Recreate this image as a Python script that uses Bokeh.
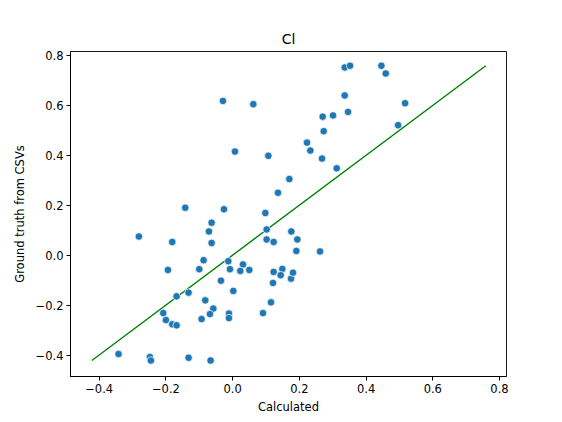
from bokeh.plotting import figure
from bokeh.models import FixedTicker, Range1d, ColumnDataSource
from bokeh.embed import file_html
from bokeh.resources import INLINE

calculated = [-0.029, 0.062, 0.007, 0.107, 0.170, 0.136, -0.142, -0.026, 0.336, 0.352,
              0.446, 0.459, 0.336, 0.346, 0.517, 0.270, 0.301, 0.273, 0.496, 0.223,
              0.233, 0.268, 0.312, 0.098, -0.281, -0.063, -0.071, -0.063, -0.181, 0.102,
              0.102, 0.123, 0.176, -0.087, -0.100, -0.194, -0.013, -0.008, 0.031, 0.023,
              0.050, 0.123, 0.149, 0.144, 0.175, -0.035, 0.121, 0.002, -0.132, -0.168,
              -0.082, 0.115, -0.208, 0.091, -0.011, -0.011, -0.058, -0.068, -0.093, -0.200,
              -0.181, -0.168, -0.342, -0.248, -0.245, -0.132, -0.066, 0.194, 0.191, 0.262,
              0.181]
ground_truth = [0.618, 0.605, 0.415, 0.398, 0.305, 0.250, 0.190, 0.184, 0.752, 0.759,
                0.759, 0.728, 0.640, 0.574, 0.609, 0.555, 0.560, 0.497, 0.521, 0.451,
                0.419, 0.387, 0.348, 0.169, 0.075, 0.130, 0.095, 0.049, 0.053, 0.103,
                0.063, 0.053, 0.095, -0.020, -0.056, -0.059, -0.024, -0.056, -0.037, -0.063,
                -0.059, -0.067, -0.055, -0.080, -0.094, -0.102, -0.111, -0.143, -0.150, -0.165,
                -0.181, -0.189, -0.232, -0.232, -0.234, -0.252, -0.214, -0.236, -0.256, -0.260,
                -0.277, -0.281, -0.396, -0.408, -0.422, -0.411, -0.422, 0.063, 0.017, 0.015,
                -0.070]

tick_values = [-0.4, -0.2, 0.0, 0.2, 0.4, 0.6, 0.8]
tick_labels = ["\u22120.4", "\u22120.2", "0.0", "0.2", "0.4", "0.6", "0.8"]

lo = min(min(calculated), min(ground_truth))
hi = max(max(calculated), max(ground_truth))

FONT = "DejaVu Sans"

p = figure(width=562, height=422, output_backend="svg", toolbar_location=None,
           title="Cl", x_range=Range1d(-0.486, 0.821), y_range=Range1d(-0.486, 0.816),
           min_border_left=70, min_border_right=56, min_border_top=51, min_border_bottom=46)

p.title.align = "center"
p.title.text_font = FONT
p.title.text_font_size = "14px"
p.title.text_font_style = "normal"
p.title.text_color = "black"

p.xgrid.visible = False
p.ygrid.visible = False
p.outline_line_color = "black"
p.outline_line_width = 0.9
p.background_fill_color = "white"
p.border_fill_color = "white"

for ax in (p.xaxis[0], p.yaxis[0]):
    ax.ticker = FixedTicker(ticks=tick_values)
    ax.major_label_overrides = {v: l for v, l in zip(tick_values, tick_labels)}
    ax.major_label_text_font = FONT
    ax.major_label_text_font_size = "11.5px"
    ax.major_label_text_color = "black"
    ax.axis_label_text_font = FONT
    ax.axis_label_text_font_size = "11.5px"
    ax.axis_label_text_font_style = "normal"
    ax.axis_label_text_color = "black"
    ax.minor_tick_line_color = None
    ax.major_tick_out = 4
    ax.major_tick_in = 0
    ax.major_tick_line_color = "black"
    ax.axis_line_color = "black"
    ax.major_label_standoff = 3

p.xaxis.axis_label = "Calculated"
p.yaxis.axis_label = "Ground truth from CSVs"
p.xaxis.axis_label_standoff = 4
p.yaxis.axis_label_standoff = 6

p.line([lo, hi], [lo, hi], line_color="green", line_width=1.4)

src = ColumnDataSource(dict(x=calculated, y=ground_truth))
p.scatter("x", "y", source=src, size=7.5, fill_color="#1f77b4", line_color="white",
          line_width=0.7)

open("out.html", "w").write(file_html(p, INLINE))
